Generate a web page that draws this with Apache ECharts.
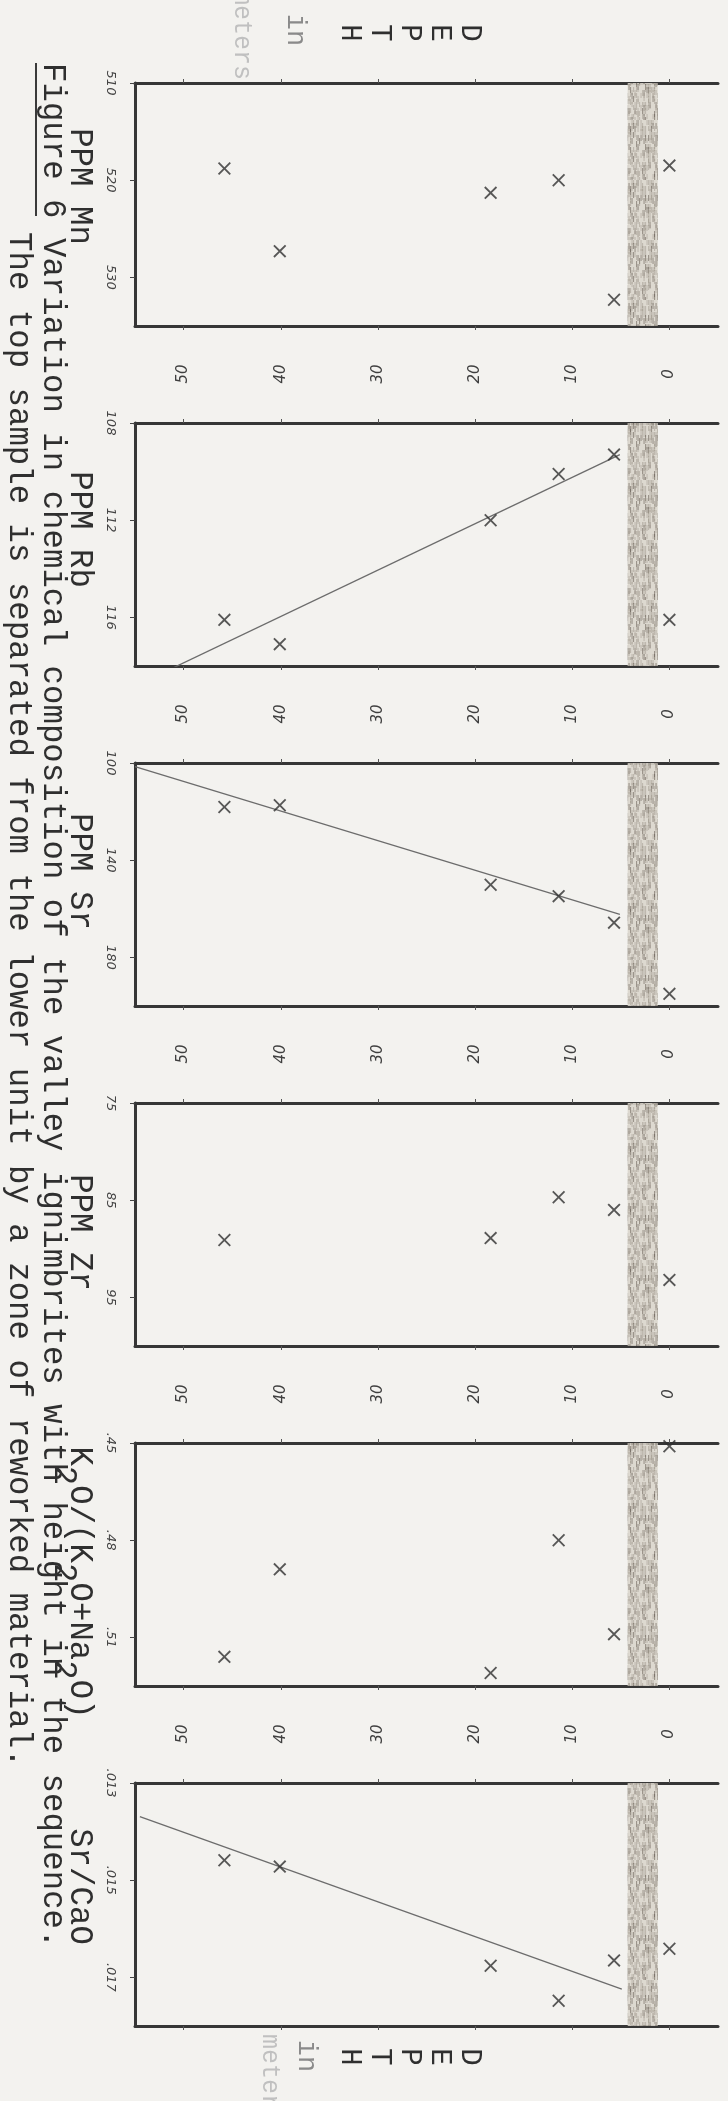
<!DOCTYPE html>
<html>
<head>
<meta charset="utf-8">
<script src="https://cdn.jsdelivr.net/npm/echarts@6/dist/echarts.min.js"></script>
<style>
  html, body { margin: 0; padding: 0; background: #f3f2ef; }
  #chart { width: 728px; height: 2101px; }
</style>
</head>
<body>
<div id="chart"></div>
<script>
// Sample heights in the valley ignimbrite section, metres below the top
const depth = [0, 5.7, 11.4, 18.4, 40.1, 45.8];
const depthTicks = [0, 10, 20, 30, 40, 50];
const depthRange = [-5, 55];
// zone of reworked material between the top sample and the lower unit
const reworkedZone = [1.2, 4.3];

// analyses, one value per sample height (null = not analysed)
const mnPpm = [518.5, 532.3, 520.0, 521.3, 527.3, 518.8];
const rbPpm = [116.1, 109.3, 110.1, 112.0, 117.1, 116.1];
const srPpm = [195.0, 165.7, 154.8, 150.1, 117.4, 118.1];
const zrPpm = [93.2, 86.0, 84.7, 88.9, null, 89.1];
const potashRatio = [0.451, 0.509, 0.480, 0.521, 0.489, 0.516];
const srCaRatio = [0.01641, 0.01665, 0.01748, 0.01676, 0.01472, 0.01459];

// fitted trends [depth, value]
const rbTrend = [[5.1, 109.3], [51.2, 118.1]];
const srTrend = [[5.1, 162.3], [55, 101.5]];
const srCaTrend = [[4.9, 0.01724], [54.5, 0.01369]];

// value axes
const mnTicks = [510, 520, 530];
const rbTicks = [108, 112, 116];
const srTicks = [100, 140, 180];
const zrTicks = [75, 85, 95];
const potashTicks = [0.45, 0.48, 0.51];
const srCaTicks = [0.013, 0.015, 0.017];
const mnRange = [510, 535];
const rbRange = [108, 118];
const srRange = [100, 200];
const zrRange = [75, 100];
const potashRange = [0.45, 0.525];
const srCaRange = [0.013, 0.018];

const panels = [
  { name: 'PPM Mn', values: mnPpm, ticks: mnTicks, range: mnRange, trend: null, shift: -18 },
  { name: 'PPM Rb', values: rbPpm, ticks: rbTicks, range: rbRange, trend: rbTrend, shift: -15 },
  { name: 'PPM Sr', values: srPpm, ticks: srTicks, range: srRange, trend: srTrend, shift: -13 },
  { name: 'PPM Zr', values: zrPpm, ticks: zrTicks, range: zrRange, trend: null, shift: 8 },
  { name: '{n|K}{s|2}{n|O/(K}{s|2}{n|O+Na}{s|2}{n|O)}', rich: true, values: potashRatio, ticks: potashTicks, range: potashRange, trend: null, shift: 18 },
  { name: 'Sr/CaO', values: srCaRatio, ticks: srCaTicks, range: srCaRange, trend: srCaTrend, shift: -18 }
];

const TYPE = '"Liberation Mono", "DejaVu Sans Mono", monospace';
const HAND = '"DejaVu Sans", "Liberation Sans", sans-serif';
const INK = '#2f2f2f';
const FRAME = '#363636';
const TYPE_SIZE = 32.4;
const PANEL_TOP = 83, PANEL_STEP = 340, PANEL_H = 243;

const fmtTick = v => (v < 1 ? String(v).replace(/^0/, '') : String(v));

// stippled fill for the reworked zone
function stipple() {
  const c = document.createElement('canvas');
  c.width = 30; c.height = 60;
  const g = c.getContext('2d');
  g.fillStyle = '#dbd6cd';
  g.fillRect(0, 0, 30, 60);
  for (let col = 0; col < 30; col += 1.5) {
    for (let row = 0; row < 60; row += 3) {
      const s = Math.sin(col * 12.9898 + row * 78.233) * 43758.5453;
      const f = s - Math.floor(s);
      if (f > 0.55) {
        g.fillStyle = f > 0.88 ? 'rgba(85,77,66,0.55)' : 'rgba(145,135,122,0.45)';
        g.fillRect(col, row, 1.1, 2 + Math.floor(f * 5));
      }
    }
  }
  return c;
}
const bandFill = { image: stipple(), repeat: 'repeat' };

// typed "x" mark
const CROSS = 'path://M1,0 L5,4 L9,0 L10,1 L6,5 L10,9 L9,10 L5,6 L1,10 L0,9 L4,5 L0,1 Z';

const grid = [], xAxis = [], yAxis = [], series = [];

panels.forEach((p, i) => {
  const top = PANEL_TOP + i * PANEL_STEP;
  grid.push({ left: 135, right: 10, top: top, height: PANEL_H });

  const depthAxis = (pos, withLabels) => ({
    type: 'value', gridIndex: i, position: pos, inverse: true,
    min: depthRange[0], max: depthRange[1],
    axisLine: { show: true, onZero: false, lineStyle: { color: FRAME, width: 3 } },
    axisTick: { show: true, inside: false, length: 4, customValues: depthTicks,
                lineStyle: { color: '#555', width: 1 } },
    axisLabel: withLabels ? {
      show: true, customValues: depthTicks, rotate: -90, margin: 49,
      align: 'center', verticalAlign: 'middle',
      fontFamily: HAND, fontStyle: 'italic', fontSize: 15, color: '#3f3f3f'
    } : { show: false },
    splitLine: { show: false }
  });
  xAxis.push(depthAxis('bottom', false));
  xAxis.push(depthAxis('top', i > 0));

  const nameStyle = {
    fontFamily: TYPE, fontSize: TYPE_SIZE, color: INK, align: 'center', verticalAlign: 'middle'
  };
  let nameGap = 50;
  if (p.rich) {
    nameStyle.rich = {
      n: { fontFamily: TYPE, fontSize: TYPE_SIZE, color: INK, verticalAlign: 'top' },
      s: { fontFamily: TYPE, fontSize: TYPE_SIZE, color: INK, verticalAlign: 'bottom', padding: [16, 0, 0, 0] }
    };
    nameGap = 56;
  }
  nameStyle.padding = p.shift < 0 ? [0, -2 * p.shift, 0, 0] : [0, 0, 0, 2 * p.shift];

  yAxis.push({
    type: 'value', gridIndex: i, position: 'left', inverse: true,
    min: p.range[0], max: p.range[1],
    name: p.name, nameLocation: 'middle', nameGap: nameGap, nameRotate: -90,
    nameTextStyle: nameStyle,
    axisLine: { show: true, onZero: false, lineStyle: { color: FRAME, width: 3 } },
    axisTick: { show: true, inside: false, length: 5, customValues: p.ticks,
                lineStyle: { color: '#444', width: 1 } },
    axisLabel: {
      show: true, customValues: p.ticks, rotate: -90, margin: 25,
      align: 'center', verticalAlign: 'middle', formatter: fmtTick,
      fontFamily: HAND, fontStyle: 'italic', fontSize: 13, color: '#444'
    },
    splitLine: { show: false }
  });

  series.push({
    type: 'scatter', xAxisIndex: 2 * i, yAxisIndex: i,
    data: depth.map((d, k) => [d, p.values[k]]).filter(pt => pt[1] !== null),
    symbol: CROSS, symbolSize: 13,
    itemStyle: { color: '#303030' },
    silent: true,
    markArea: {
      silent: true,
      itemStyle: { color: bandFill, opacity: 0.9 },
      label: { show: false },
      data: [[{ xAxis: reworkedZone[0] }, { xAxis: reworkedZone[1] }]]
    },
    z: 3
  });

  if (p.trend) {
    series.push({
      type: 'line', xAxisIndex: 2 * i, yAxisIndex: i,
      data: p.trend, showSymbol: false, silent: true,
      lineStyle: { color: '#6c6c6c', width: 1.3 },
      z: 2
    });
  }
});

// axis title of the depth scale, typed one letter per line
const headerLetters = ['D', 'E', 'P', 'T', 'H'];
function textEl(x, y, text, size, fill, align) {
  return {
    type: 'text', x: x, y: y, rotation: -Math.PI / 2,
    style: { text: text, font: size + 'px ' + TYPE, fill: fill,
             align: align, verticalAlign: 'middle', textAlign: align, textVerticalAlign: 'middle' }
  };
}
function depthTitle(yMid, inX, inY, metersX, metersY, metersAlign) {
  const els = headerLetters.map((ch, k) => textEl(470 - 30 * k, yMid, ch, 29, INK, 'center'));
  els.push(textEl(inX, inY, 'in', 27, '#8a8a8a', 'center'));
  els.push(textEl(metersX, metersY, 'meters', 25, '#c0c0c0', metersAlign));
  return els;
}

const caption1 = 'Figure 6 Variation in chemical composition of the valley ignimbrites with height in the sequence.';
const caption2 = 'The top sample is separated from the lower unit by a zone of reworked material.';

const graphic = [
  textEl(53, 63, caption1, TYPE_SIZE, INK, 'left'),
  textEl(19, 232, caption2, TYPE_SIZE, INK, 'left'),
  { type: 'rect', shape: { x: 35, y: 63, width: 2, height: 153 }, style: { fill: '#3a3a3a' } }
].concat(depthTitle(33, 295, 30, 242, 80, 'right'), depthTitle(2057, 306, 2056, 270, 2034, 'left'));

const chart = echarts.init(document.getElementById('chart'), null, { renderer: 'canvas', width: 728, height: 2101 });
chart.setOption({
  animation: false,
  backgroundColor: '#f3f2ef',
  grid, xAxis, yAxis, series, graphic
});
</script>
</body>
</html>
